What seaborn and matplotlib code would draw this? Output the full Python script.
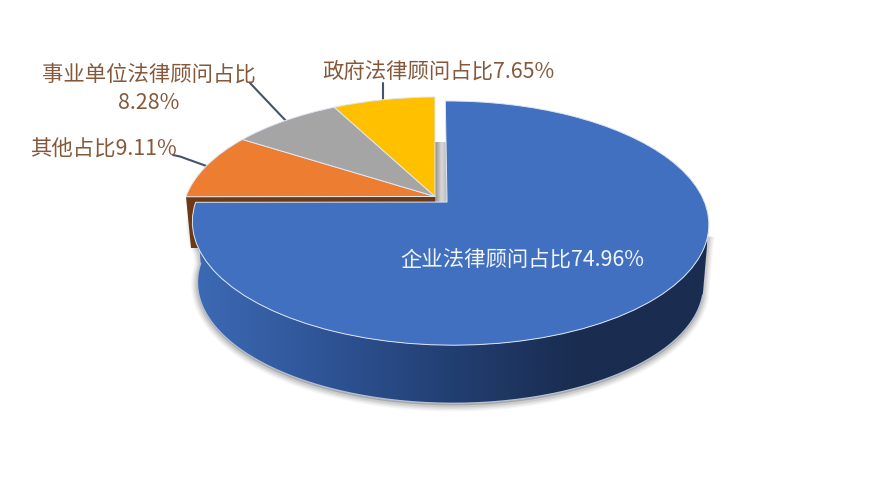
import numpy as np
import matplotlib
matplotlib.use('Agg')
import matplotlib.pyplot as plt
import seaborn as sb
from matplotlib.colors import LinearSegmentedColormap
from matplotlib.patches import Polygon
from matplotlib.transforms import Transform

names = ['企业法律顾问', '其他', '事业单位法律顾问', '政府法律顾问']
shares = [74.96, 9.11, 8.28, 7.65]
slice_colors = ['#4170c1', '#ed7d31', '#a5a5a5', '#ffc000']
wall_colors = ['#3d6ab5', '#2f5597', '#223f72', '#1a2c50', '#1a2c50']
label_texts = ['企业法律顾问占比74.96%', '其他占比9.11%', '事业单位法律顾问占比\n8.28%', '政府法律顾问占比7.65%']

sb.set_theme(style='white')
plt.rcParams['font.family'] = ['Noto Sans CJK SC', 'DejaVu Sans']

# tilt of the pie: unit circle -> picture pixels
OX, OY = 435, 196.5
M, K, C, D = 252, 116.5, 0.1706, -0.012
EXPLODE = 0.067
DEPTH = 61
SHRINK = 0.98


def project(x, y):
    w = 1 + C * y + D * x
    return np.column_stack([OX + M * x / w, OY - K * y / w])


class Tilt(Transform):
    input_dims = 2
    output_dims = 2
    is_separable = False
    has_inverse = False

    def transform_non_affine(self, values):
        values = np.asarray(values)
        return project(values[:, 0], values[:, 1])


def arc(theta1, theta2):
    # outer rim of the exploded big slice, in pixels
    shift = EXPLODE * np.cos(np.radians(45))
    t = np.radians(np.linspace(theta1, theta2, 200))
    return project(shift + np.cos(t), -shift + np.sin(t))


fig = plt.figure(figsize=(8.72, 4.91), dpi=100)
ax = fig.add_axes([0, 0, 1, 1])

wedges, _ = ax.pie(shares, colors=slice_colors, startangle=90, counterclock=False,
                   explode=[EXPLODE, 0, 0, 0], radius=1,
                   wedgeprops={'edgecolor': '#dfe6f2', 'linewidth': 0.7, 'joinstyle': 'round'})
tilt = Tilt() + ax.transData
for w in wedges:
    w.set_transform(tilt)
    w.set_zorder(5)

# wall of the big slice
apex = project(np.array([EXPLODE * np.cos(np.radians(45))]), np.array([-EXPLODE * np.cos(np.radians(45))]))[0]
top = arc(180, 345)
bottom = apex + (top - apex) * SHRINK + [0, DEPTH]
wall = np.vstack([top, bottom[::-1]])

# soft shadow
for lw, a in zip([9, 7, 5, 3], [0.05, 0.07, 0.09, 0.12]):
    ax.add_patch(Polygon(wall + [0, 2], closed=True, facecolor='#555555', edgecolor='#555555',
                         linewidth=lw, alpha=a, zorder=1))

cmap = LinearSegmentedColormap.from_list('wall', wall_colors)
im = ax.imshow(np.linspace(0, 1, 256)[None, :], extent=[192, 707, 410, 190], cmap=cmap,
               aspect='auto', zorder=3)
clip = Polygon(wall, closed=True, transform=ax.transData)
im.set_clip_path(clip)
ax.plot(bottom[:, 0], bottom[:, 1], color='#b4bfd0', lw=1, zorder=3.5)

# cut face of the orange slice
left = project(np.array([-1.0]), np.array([0.0]))[0]
ax.add_patch(Polygon([left, [OX, OY], [OX, OY + 51], [left[0] + 5, OY + 51]], closed=True,
                     facecolor='#6b3a15', edgecolor='none', zorder=2))

# gap shading between the small slices and the big one
shade = LinearSegmentedColormap.from_list('gap', ['#8f8f8f', '#d8d8d8', '#b5b5b5'])
ax.imshow(np.linspace(0, 1, 32)[None, :], extent=[OX, apex[0], apex[1] + 1, 143], cmap=shade,
          aspect='auto', zorder=2)

ax.set_xlim(0, 872)
ax.set_ylim(491, 0)
ax.set_aspect('auto')
ax.axis('off')

# leader lines
line_color = '#44546a'
ax.plot([383, 383], [83, 100], color=line_color, lw=1.5, zorder=4)
ax.plot([250, 287], [83, 122], color=line_color, lw=1.5, zorder=4)
ax.plot([173, 180, 212], [155, 156.5, 168], color=line_color, lw=1.5, zorder=4)

text_color = '#85583a'
ax.text(522, 260, label_texts[0], color='#f2f5fb', fontsize=15.4, ha='center', va='center', zorder=7)
ax.text(103, 150, label_texts[1], color=text_color, fontsize=15.4, ha='center', va='center', zorder=7)
ax.text(149, 89, label_texts[2], color=text_color, fontsize=15.4, ha='center', va='center',
        linespacing=1.4, zorder=7)
ax.text(438, 72, label_texts[3], color=text_color, fontsize=15.4, ha='center', va='center', zorder=7)

fig.savefig('out.png', dpi=100, facecolor='white')
